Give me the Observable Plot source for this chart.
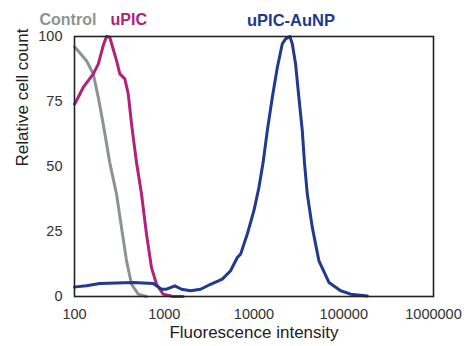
<!DOCTYPE html>
<html>
<head>
<meta charset="utf-8">
<script src="https://cdn.jsdelivr.net/npm/d3@7"></script>
<script src="https://cdn.jsdelivr.net/npm/@observablehq/plot@0.6"></script>
<style>
  html, body { margin: 0; padding: 0; background: #fff; }
</style>
</head>
<body>
<div id="chart"></div>
<script>
const xTicks = [100, 1000, 10000, 100000, 1000000];
const yTicks = [0, 25, 50, 75, 100];

const controlX = [100, 103, 136, 162, 184, 209, 247, 294, 334, 380, 432, 513, 634];
const controlY = [96, 95.6, 90.7, 85.6, 76.6, 66.3, 51.5, 39.4, 26.5, 13.7, 4.7, 0.9, 0];

const upicX = [100, 103, 125, 162, 184, 209, 227, 247, 294, 320, 364, 397, 432, 491, 558, 634, 721, 820, 973, 1258, 1627];
const upicY = [74, 74.7, 80.4, 85.6, 89.4, 96.5, 100, 99.7, 90.7, 85.6, 83.7, 77.9, 66.3, 51.5, 39.4, 24, 11.1, 4.7, 0.9, 0, 0];

const aunpX = [100, 103, 136, 191, 294, 451, 754, 933, 1061, 1313, 1559, 1964, 2540, 3283, 4433, 5483, 6513, 7090, 8420, 9975, 11340, 12630, 14070, 16000, 18190, 20680, 22500, 25100, 26700, 29060, 31620, 34510, 36500, 39230, 44660, 52900, 68390, 92350, 119400, 183300];
const aunpY = [3.7, 3.7, 4.1, 5, 5.2, 5.4, 5, 2.8, 2.8, 4.1, 2.8, 2.2, 2.8, 4.7, 6.7, 9.9, 15, 16.3, 24, 33, 41.9, 51.5, 63.8, 76.6, 88.1, 97.2, 99.1, 100, 97.2, 89.4, 76.6, 63.8, 51.5, 39.4, 26.5, 13.7, 5.4, 2.2, 0.9, 0.2];

const seriesNames = ["Control", "uPIC", "uPIC-AuNP"];
const colors = ["#8d9391", "#b3217c", "#1f3a8e"];

const toRows = (xs, ys, s) => xs.map((x, i) => ({x, y: ys[i], s}));
const rows = [
  ...toRows(controlX, controlY, seriesNames[0]),
  ...toRows(upicX, upicY, seriesNames[1]),
  ...toRows(aunpX, aunpY, seriesNames[2])
];

const font = "'Liberation Sans', Arial, sans-serif";

const chart = Plot.plot({
  width: 464,
  height: 346,
  marginLeft: 74,
  marginRight: 31,
  marginTop: 36,
  marginBottom: 50,
  style: {fontFamily: font, fontSize: "14.5px", color: "#333", background: "#fff"},
  x: {type: "log", domain: [100, 1000000], label: null},
  y: {domain: [0, 100], label: null},
  color: {domain: seriesNames, range: colors},
  marks: [
    Plot.axisX(xTicks, {tickSize: 0, tickPadding: 12, tickFormat: d3.format("d"), label: null, fill: "#333"}),
    Plot.axisY(yTicks, {tickSize: 0, tickPadding: 12, label: null, fill: "#333"}),
    Plot.line(rows, {x: "x", y: "y", z: "s", stroke: "s", strokeWidth: 3, curve: "linear", strokeLinejoin: "round"}),
    Plot.frame({stroke: "#222", strokeWidth: 1.6}),
    Plot.text(["Fluorescence intensity"], {frameAnchor: "bottom", dy: 41, fontSize: 17, fill: "#222"}),
    Plot.text(["Relative cell count"], {frameAnchor: "left", rotate: -90, dx: -52, fontSize: 17, fill: "#222"}),
    Plot.text([seriesNames[0]], {frameAnchor: "top-left", textAnchor: "start", dx: -35, dy: -23, fontSize: 16, fontWeight: "bold", fill: colors[0]}),
    Plot.text([seriesNames[1]], {frameAnchor: "top-left", textAnchor: "start", dx: 36, dy: -23, fontSize: 16, fontWeight: "bold", fill: colors[1]}),
    Plot.text([seriesNames[2]], {frameAnchor: "top", dx: 37, dy: -22, fontSize: 16.5, fontWeight: "bold", fill: colors[2]})
  ]
});
document.getElementById("chart").appendChild(chart);
</script>
</body>
</html>
